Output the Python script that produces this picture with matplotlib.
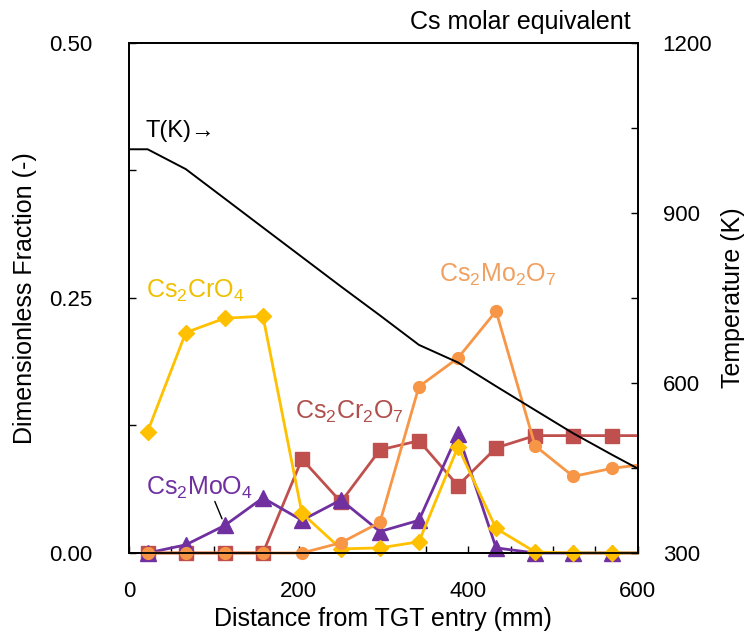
import matplotlib
matplotlib.use("Agg")
import matplotlib.pyplot as plt
from matplotlib.ticker import MultipleLocator, FixedLocator

plt.rcParams['font.family'] = ['Liberation Sans', 'DejaVu Sans']
plt.rcParams['mathtext.default'] = 'regular'

# sampling positions along the TGT (mm); last entry is the outlet at 600 mm
distance = [22, 67, 113, 158, 204, 250, 296, 342, 388, 433, 479, 524, 570, 600]

cs2cro4 = [0.119, 0.216, 0.230, 0.232, 0.039, 0.004, 0.005, 0.011, 0.104, 0.024, 0.001, 0.0, 0.0, 0.0]
cs2moo4 = [0.0, 0.008, 0.027, 0.054, 0.032, 0.052, 0.021, 0.032, 0.117, 0.005, 0.0, 0.0, 0.0, 0.0]
cs2cr2o7 = [0.0, 0.0, 0.0, 0.0, 0.092, 0.050, 0.101, 0.110, 0.066, 0.103, 0.115, 0.115, 0.115, 0.115]
cs2mo2o7 = [0.0, 0.0, 0.0, 0.0, 0.0, 0.010, 0.030, 0.163, 0.191, 0.237, 0.105, 0.075, 0.083, 0.086]

# gas temperature profile
t_dist = [0, 22, 67, 113, 158, 204, 250, 296, 342, 388, 433, 479, 524, 570, 600]
t_kelvin = [1012, 1012, 977, 925, 874, 822, 770, 719, 667, 636, 594, 552, 511, 473, 449]

fig = plt.figure(figsize=(7.46, 6.37), dpi=100)
ax = fig.add_axes([0.1729, 0.1319, 0.6819, 0.8011])
ax2 = ax.twinx()

marked = slice(0, 13)
ax.plot(distance, cs2cr2o7, color='#C0504D', lw=2, marker='s', ms=9.5,
        markevery=marked, clip_on=False, zorder=2)
ax.plot(distance, cs2moo4, color='#7030A0', lw=2, marker='^', ms=11,
        markevery=marked, clip_on=False, zorder=3)
ax.plot(distance, cs2cro4, color='#FFC000', lw=2, marker='D', ms=8.5,
        markevery=marked, clip_on=False, zorder=4)
ax.plot(distance, cs2mo2o7, color='#F79646', lw=2, marker='o', ms=8.5,
        markevery=marked, clip_on=False, zorder=5)

ax2.plot(t_dist, t_kelvin, color='black', lw=1.4)

ax.set_xlim(0, 600)
ax.set_ylim(0, 0.5)
ax2.set_ylim(300, 1200)

ax.xaxis.set_major_locator(MultipleLocator(200))
ax.xaxis.set_minor_locator(MultipleLocator(50))
ax.yaxis.set_major_locator(FixedLocator([0, 0.25, 0.5]))
ax.yaxis.set_minor_locator(FixedLocator([0.125, 0.375]))
ax.yaxis.set_major_formatter(plt.FormatStrFormatter('%.2f'))
ax2.yaxis.set_major_locator(MultipleLocator(300))
ax2.yaxis.set_minor_locator(MultipleLocator(150))

ax.tick_params(axis='x', which='both', direction='in', length=5, width=1,
               labelsize=16, pad=20, top=False)
ax.tick_params(axis='y', which='both', direction='in', length=5, width=1,
               labelsize=16, pad=26, right=False)
ax2.tick_params(axis='y', which='both', direction='in', length=5, width=1,
                labelsize=16, pad=18)

for a in (ax, ax2):
    for s in a.spines.values():
        s.set_linewidth(1.3)

ax.set_xlabel('Distance from TGT entry (mm)', fontsize=18)
ax.set_ylabel('Dimensionless Fraction (-)', fontsize=18)
ax2.set_ylabel('Temperature (K)', fontsize=18)
ax.xaxis.set_label_coords(0.5, -0.105)
ax.yaxis.set_label_coords(-0.18, 0.5)
ax2.yaxis.set_label_coords(1.163, 0.5)

ax.text(20, 0.257, 'Cs$_2$CrO$_4$', color='#F0C000', fontsize=18, va='center')
ax.text(366, 0.272, 'Cs$_2$Mo$_2$O$_7$', color='#F0A060', fontsize=18, va='center')
ax.text(196, 0.138, 'Cs$_2$Cr$_2$O$_7$', color='#B0504D', fontsize=18, va='center')
ax.text(20, 0.064, 'Cs$_2$MoO$_4$', color='#7030A0', fontsize=18, va='center')
ax.annotate('', xy=(111, 0.031), xytext=(100, 0.053),
            arrowprops=dict(arrowstyle='-', color='black', lw=1))
ax2.text(20, 1045, 'T(K)\u2192', color='black', fontsize=17, va='center')

fig.text(0.846, 0.966, 'Cs molar equivalent', fontsize=18, ha='right', va='center')

fig.savefig('out.png', dpi=100)
